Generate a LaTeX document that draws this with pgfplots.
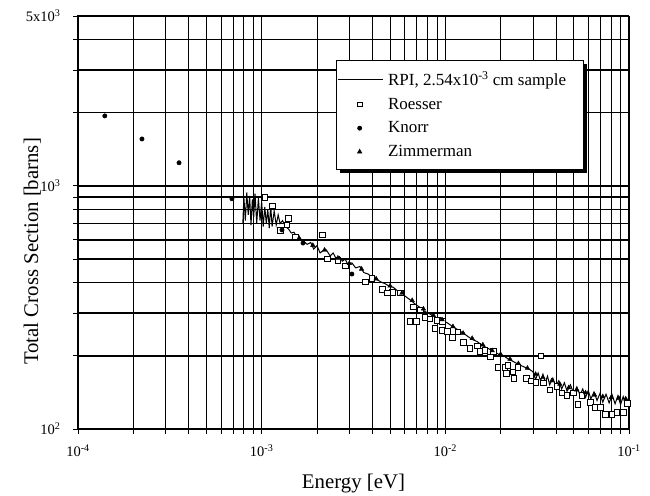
\documentclass[border=0pt]{standalone}
\usepackage{fontspec}
\setmainfont{Liberation Serif}
\usepackage{pgfplots}
\pgfplotsset{compat=1.18}
\usetikzlibrary{shadows}
\makeatletter
\tikzset{nopre/.code={\let\tikz@preactions\pgfutil@empty}}
\makeatother

\pgfplotstableread{
x y
7.9e-4 700
8.0e-4 900
8.15e-4 720
8.3e-4 940
8.45e-4 760
8.6e-4 910
8.75e-4 690
8.9e-4 880
9.05e-4 740
9.2e-4 930
9.4e-4 700
9.6e-4 890
9.8e-4 720
1.0e-3 860
1.02e-3 680
1.04e-3 820
1.06e-3 700
1.08e-3 800
1.10e-3 670
1.12e-3 830
1.14e-3 680
1.17e-3 790
1.20e-3 690
1.23e-3 760
1.26e-3 700
1.30e-3 720
1.35e-3 680
1.40e-3 665
1.45e-3 640
1.50e-3 645
1.56e-3 612
1.62e-3 605
1.70e-3 590
1.77e-3 575
1.85e-3 585
1.92e-3 550
2.0e-3 568
2.08e-3 530
2.16e-3 542
2.25e-3 545
2.36e-3 515
2.45e-3 530
2.55e-3 500
2.65e-3 512
2.75e-3 490
2.85e-3 500
2.95e-3 475
3.1e-3 482
3.25e-3 460
3.43e-3 466
3.6e-3 440
3.8e-3 434
4.0e-3 420
4.2e-3 414
4.45e-3 403
4.7e-3 396
4.95e-3 387
5.2e-3 383
5.5e-3 370
5.8e-3 360
6.1e-3 350
6.5e-3 338
6.9e-3 325
7.3e-3 316
7.7e-3 305
8.2e-3 298
8.7e-3 290
9.2e-3 285
9.7e-3 278
1.02e-2 274
1.08e-2 266
1.14e-2 259
1.2e-2 253
1.27e-2 246
1.34e-2 239
1.41e-2 233
1.49e-2 229
1.57e-2 222
1.66e-2 217
1.76e-2 212
1.86e-2 207
1.98e-2 202
2.1e-2 199
2.2e-2 194
2.33e-2 190
2.45e-2 186
2.6e-2 182
2.78e-2 178
2.9e-2 175
3.0e-2 172
3.1e-2 160
3.2e-2 170
3.3e-2 158
3.4e-2 168
3.5e-2 155
3.6e-2 165
3.7e-2 152
3.85e-2 162
4.0e-2 150
4.15e-2 158
4.3e-2 146
4.45e-2 155
4.6e-2 143
4.8e-2 152
5.0e-2 140
5.2e-2 149
5.41e-2 138
5.6e-2 146
5.8e-2 135
6.0e-2 144
6.2e-2 133
6.45e-2 142
6.7e-2 131
6.95e-2 140
7.2e-2 129
7.5e-2 139
7.8e-2 128
8.1e-2 138
8.4e-2 127
8.7e-2 137
9.0e-2 126
9.3e-2 136
9.6e-2 127
1.0e-1 131
}\rpi

\pgfplotstableread{
x y
1.04e-3 901
1.14e-3 828
1.39e-3 738
1.37e-3 692
1.26e-3 659
1.52e-3 617
2.13e-3 629
2.27e-3 501
2.60e-3 496
2.84e-3 469
3.65e-3 403
3.98e-3 418
4.52e-3 377
5.12e-3 366
4.81e-3 363
5.66e-3 363
6.67e-3 318
7.28e-3 309
6.41e-3 278
6.92e-3 278
7.74e-3 289
8.24e-3 284
9.0e-3 281
9.58e-3 278
8.77e-3 260
9.58e-3 255
1.03e-2 253
1.09e-2 239
1.17e-2 251
1.25e-2 228
1.36e-2 215
1.49e-2 220
1.54e-2 208
1.64e-2 211
1.75e-2 198
1.82e-2 208
1.93e-2 180
2.11e-2 180
2.19e-2 183
2.14e-2 170
2.33e-2 172
2.36e-2 162
2.48e-2 180
2.75e-2 162
2.92e-2 158
3.11e-2 156
3.40e-2 155
3.31e-2 200
3.71e-2 145
4.05e-2 150
4.31e-2 141
4.59e-2 138
4.95e-2 141
5.27e-2 126
5.54e-2 138
6.13e-2 129
6.52e-2 123
6.95e-2 123
7.40e-2 115
8.07e-2 115
8.59e-2 117
9.27e-2 117
9.75e-2 128
}\roesser

\pgfplotstableread{
x y
1.40e-4 1941
2.23e-4 1560
3.55e-4 1245
6.89e-4 885
1.29e-3 659
1.68e-3 582
3.10e-3 434
}\knorr

\pgfplotstableread{
x y
1.6e-3 610
1.9e-3 570
2.2e-3 545
2.6e-3 505
3.0e-3 480
3.5e-3 455
4.2e-3 415
5.0e-3 388
5.8e-3 362
6.6e-3 338
7.6e-3 312
8.6e-3 294
9.6e-3 282
1.1e-2 264
1.25e-2 248
1.4e-2 236
1.6e-2 222
1.8e-2 210
2.0e-2 203
2.25e-2 194
2.5e-2 186
2.8e-2 178
3.1e-2 168
3.4e-2 163
3.8e-2 158
4.2e-2 153
4.7e-2 148
5.2e-2 145
5.8e-2 141
6.5e-2 138
7.2e-2 136
8.0e-2 135
8.8e-2 134
9.6e-2 133
}\zimmer

\begin{document}
\begin{tikzpicture}
\begin{axis}[
  scale only axis, width=551pt, height=413pt,
  xmode=log, ymode=log,
  xmin=1e-4, xmax=1e-1, ymin=100, ymax=5000,
  xtick={1e-4,1e-3,1e-2,1e-1},
  xticklabels={10\textsuperscript{-4},10\textsuperscript{-3},10\textsuperscript{-2},10\textsuperscript{-1}},
  minor xtick={2e-4,3e-4,4e-4,5e-4,6e-4,7e-4,8e-4,9e-4,2e-3,3e-3,4e-3,5e-3,6e-3,7e-3,8e-3,9e-3,2e-2,3e-2,4e-2,5e-2,6e-2,7e-2,8e-2,9e-2},
  ytick={100,1000},
  yticklabels={10\textsuperscript{2},10\textsuperscript{3}},
  extra y ticks={5000},
  extra y tick labels={5x10\textsuperscript{3}},
  minor ytick={200,300,400,500,600,700,800,900,2000,3000,4000},
  grid=both,
  major grid style={black, line width=0.8pt},
  minor grid style={black, line width=0.8pt},
  y grid style={line width=1.45pt},
  tick align=outside,
  xtick pos=left, ytick pos=left,
  major tick length=5pt, minor tick length=5pt,
  every tick/.style={black, line width=0.8pt},
  axis line style={line width=1pt},
  tick label style={font=\fontsize{14.5}{16}\selectfont},
  xticklabel style={yshift=-7pt},
  yticklabel style={xshift=-9pt},
  label style={font=\fontsize{20.8}{24}\selectfont},
  xlabel={Energy [eV]},
  ylabel={Total Cross Section [barns]},
  xlabel style={at={(axis description cs:0.5,-0.131)}, anchor=center},
  ylabel style={at={(axis description cs:-0.083,0.43)}, anchor=center},
  legend cell align=left,
  legend style={at={(axis description cs:0.468,0.893)}, anchor=north west,
    draw=black, line width=0.8pt, fill=white,
    font=\fontsize{17}{19}\selectfont,
    inner xsep=1pt, inner ysep=9pt, row sep=7pt,
    drop shadow={shadow xshift=3.5pt, shadow yshift=-3.5pt, fill=black, opacity=1}},
]
\addplot[black, line width=1pt, mark=none,
  legend image code/.code={\draw[nopre, black, line width=0.8pt] (0pt,0pt) -- (45pt,0pt);}]
  table[x=x,y=y] {\rpi};
\addlegendentry{\hspace*{3pt}RPI, 2.54x10\textsuperscript{-3} cm sample\hspace*{14pt}}
\addplot[only marks, mark=square*, mark size=2.9pt, mark options={fill=white, draw=black, line width=0.6pt},
  legend image code/.code={\draw[nopre, mark=square*, mark size=2.2pt, fill=white, draw=black, line width=0.6pt] plot coordinates {(22pt,0pt)};}]
  table[x=x,y=y] {\roesser};
\addlegendentry{\hspace*{3pt}Roesser}
\addplot[only marks, mark=*, mark size=2.2pt, mark options={fill=black, draw=black},
  legend image code/.code={\draw[nopre, mark=*, mark size=2pt, fill=black, draw=black] plot coordinates {(22pt,0pt)};}]
  table[x=x,y=y] {\knorr};
\addlegendentry{\hspace*{3pt}Knorr}
\addplot[only marks, mark=triangle*, mark size=2.6pt, mark options={fill=black, draw=black},
  legend image code/.code={\draw[nopre, mark=triangle*, mark size=2.4pt, fill=black, draw=black] plot coordinates {(22pt,0pt)};}]
  table[x=x,y=y] {\zimmer};
\addlegendentry{\hspace*{3pt}Zimmerman}
\end{axis}
\pgfresetboundingbox
\path[use as bounding box] (-78pt,-66pt) rectangle (572pt,429pt);
\end{tikzpicture}
\end{document}
